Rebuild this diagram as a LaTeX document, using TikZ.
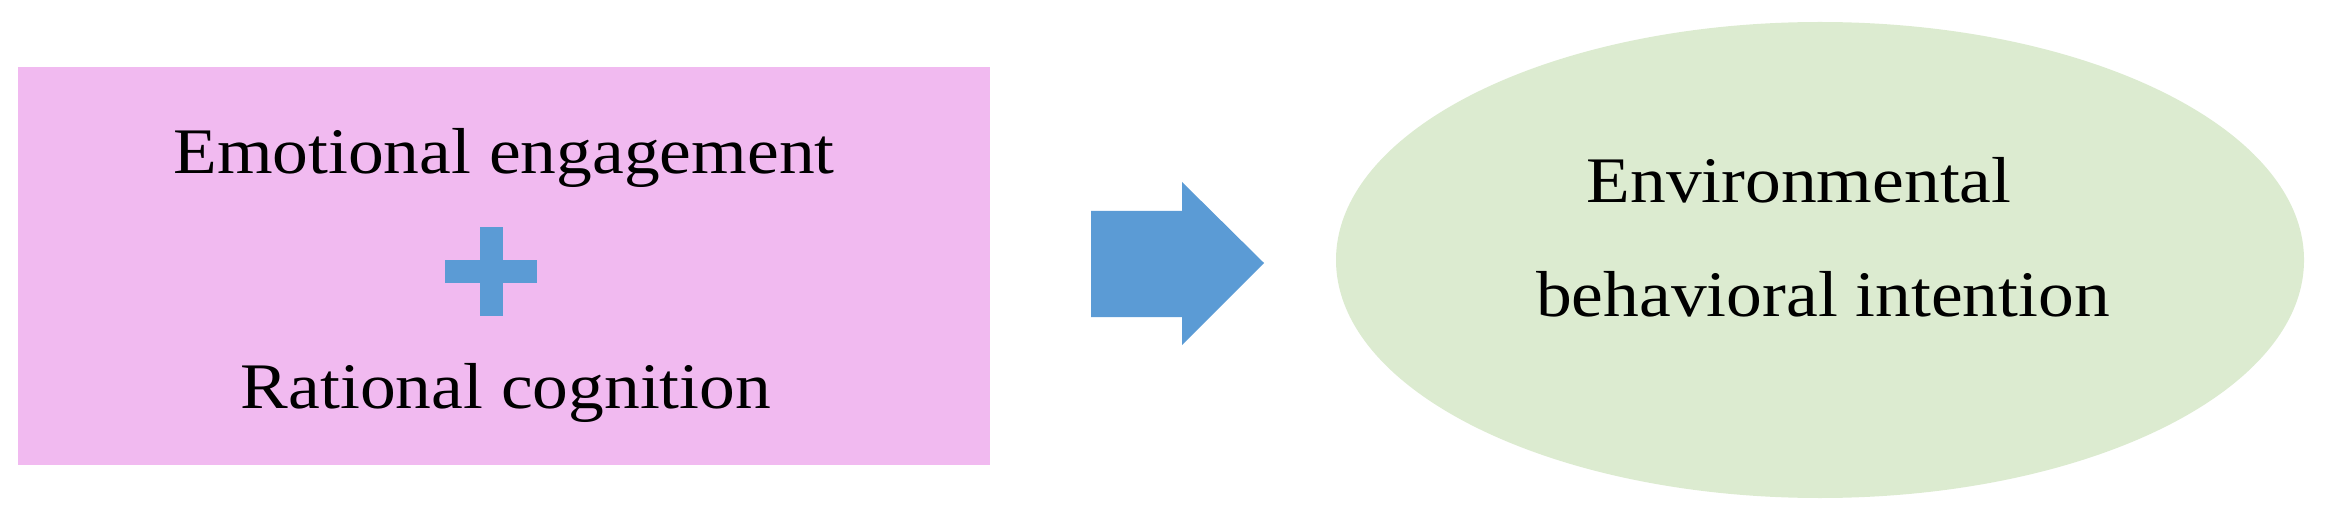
\documentclass[tikz,border=0pt]{standalone}
\usepackage{fontspec}
\setmainfont[FakeStretch=1.1]{Liberation Serif}
\usetikzlibrary{shapes.geometric}
\definecolor{pinkfill}{RGB}{241,186,240}
\definecolor{greenfill}{RGB}{220,235,208}
\definecolor{arrowblue}{RGB}{91,155,213}
\tikzset{
  lbl/.style={anchor=base, inner sep=0pt, font=\fontsize{32.5}{38}\selectfont, text=black},
}
\begin{document}
\begin{tikzpicture}[x=0.5pt,y=-0.5pt]
\useasboundingbox (0,0) rectangle (2328,518);
% left box
\node[rectangle, fill=pinkfill, inner sep=0pt, minimum width=486pt, minimum height=199pt] (src) at (504,266) {};
\node[lbl] (emo) at (504,174) {Emotional engagement};
\node[lbl] (rat) at (506,408) {Rational cognition};
% plus sign
\fill[arrowblue] (445,260) rectangle (537,283);
\fill[arrowblue] (480,227) rectangle (503,316);
% block arrow
\fill[arrowblue] (1091,211) -- (1182,211) -- (1182,182) -- (1264,263) -- (1182,345) -- (1182,317) -- (1091,317) -- cycle;
% ellipse
\node[ellipse, fill=greenfill, inner sep=0pt, minimum width=484pt, minimum height=238pt] (tgt) at (1820,260) {};
\node[lbl] (env) at (1799,203) {Environmental};
\node[lbl] (beh) at (1823,316) {behavioral intention};
\end{tikzpicture}
\end{document}
